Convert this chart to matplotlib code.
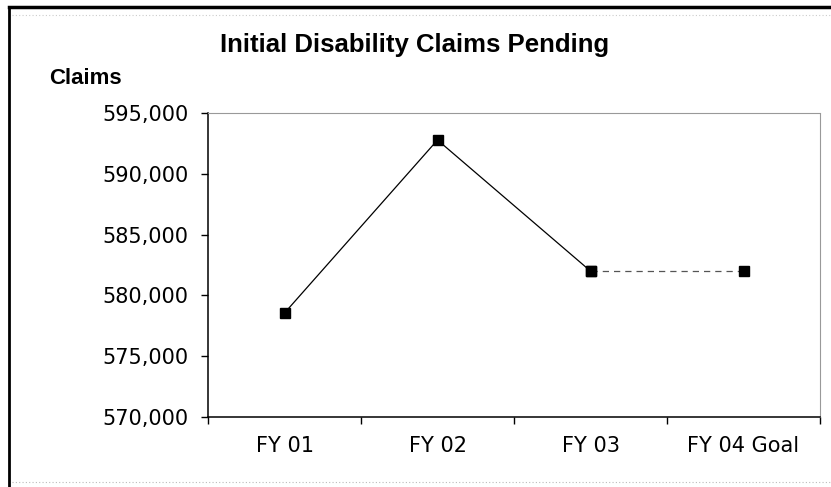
import matplotlib
matplotlib.use("Agg")
import matplotlib.pyplot as plt
from matplotlib.lines import Line2D
from matplotlib.ticker import FuncFormatter

# data
categories = ["FY 01", "FY 02", "FY 03", "FY 04 Goal"]
actual = [578550, 592780, 582000]
goal = [582000, 582000]          # FY 03 -> FY 04 Goal
y_ticks = [570000, 575000, 580000, 585000, 590000, 595000]

plt.rcParams['font.family'] = ['Liberation Sans', 'DejaVu Sans']

W, H = 831, 487
fig = plt.figure(figsize=(W / 100, H / 100), dpi=100)
ax = fig.add_axes([208 / W, 1 - 417 / H, (820 - 208) / W, (417 - 113) / H])

x = list(range(len(categories)))
ax.plot(x[:3], actual, color='black', lw=0.9, marker='s', ms=7.5,
        mfc='black', mec='black')
ax.plot(x[2:], goal, color='#555555', lw=0.9, ls=(0, (5, 4)), marker='s',
        ms=7.5, mfc='black', mec='black')

ax.set_xlim(-0.5, len(categories) - 0.5)
ax.set_ylim(y_ticks[0], y_ticks[-1])
ax.set_yticks(y_ticks)
ax.yaxis.set_major_formatter(FuncFormatter(lambda v, p: f"{int(v):,}"))

# category boundary ticks, labels centred between them
ax.set_xticks([i - 0.5 for i in range(len(categories) + 1)])
ax.set_xticklabels([])
ax.set_xticks(x, minor=True)
ax.set_xticklabels(categories, minor=True, family='DejaVu Sans')
ax.tick_params(axis='x', which='major', length=5, width=1, direction='out')
ax.tick_params(axis='x', which='minor', length=0, pad=14, labelsize=15)
ax.tick_params(axis='y', length=5, width=1, direction='out', labelsize=15, pad=9)
for lab in ax.get_yticklabels():
    lab.set_family('DejaVu Sans')

ax.spines['left'].set_linewidth(1.1)
ax.spines['bottom'].set_linewidth(1.1)
for s in ['top', 'right']:
    ax.spines[s].set_color('#999999')
    ax.spines[s].set_linestyle((0, (1, 1)))
    ax.spines[s].set_linewidth(0.8)

fig.text(415 / W, 1 - 45 / H, "Initial Disability Claims Pending",
         ha='center', va='center', fontsize=18.5, fontweight='bold')
fig.text(49 / W, 1 - 79 / H, "Claims", ha='left', va='center',
         fontsize=16, fontweight='bold')

# outer frame of the original picture
fig.add_artist(Line2D([9 / W, 1], [1 - 7 / H, 1 - 7 / H], color='black', lw=2.5,
                      transform=fig.transFigure))
fig.add_artist(Line2D([9 / W, 9 / W], [0, 1 - 7 / H], color='black', lw=2,
                      transform=fig.transFigure))
fig.add_artist(Line2D([12 / W, 1], [1 - 15 / H, 1 - 15 / H], color='#cccccc',
                      lw=0.8, ls=(0, (1, 2)), transform=fig.transFigure))
fig.add_artist(Line2D([12 / W, 1], [1 - 482 / H, 1 - 482 / H], color='#bbbbbb',
                      lw=0.8, ls=(0, (1, 2)), transform=fig.transFigure))

fig.savefig("out.png", dpi=100, facecolor='white')
